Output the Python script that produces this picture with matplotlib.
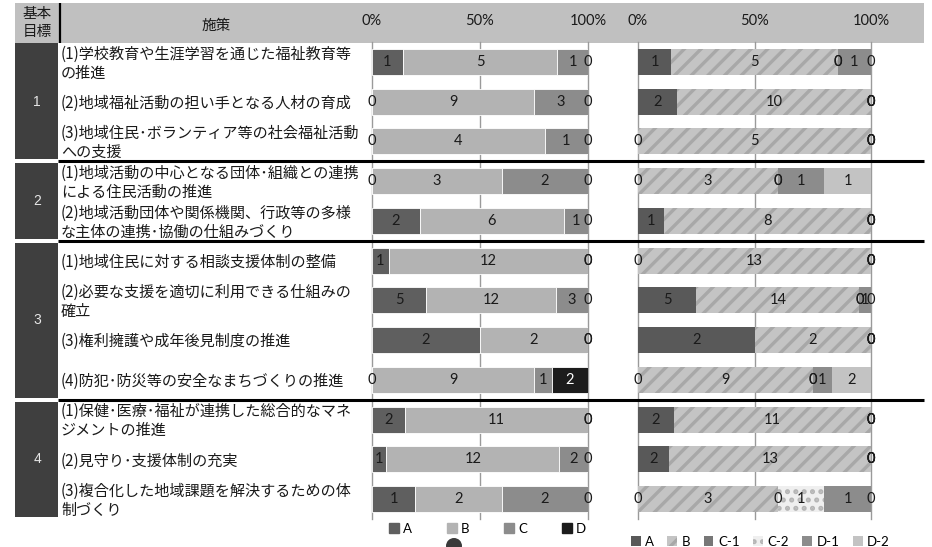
import matplotlib
matplotlib.use("Agg")
import matplotlib.pyplot as plt
from matplotlib.patches import Rectangle, Circle, Patch
import numpy as np

plt.rcParams['font.family'] = ['Noto Sans CJK JP', 'DejaVu Sans']
plt.rcParams['hatch.linewidth'] = 2.4

# ---------------- data ----------------
goals = ['1', '2', '3', '4']
goal_sizes = [3, 2, 4, 3]
measures = [
    '(1)学校教育や生涯学習を通じた福祉教育等\nの推進',
    '(2)地域福祉活動の担い手となる人材の育成',
    '(3)地域住民･ボランティア等の社会福祉活動\nへの支援',
    '(1)地域活動の中心となる団体･組織との連携\nによる住民活動の推進',
    '(2)地域活動団体や関係機関、行政等の多様\nな主体の連携･協働の仕組みづくり',
    '(1)地域住民に対する相談支援体制の整備',
    '(2)必要な支援を適切に利用できる仕組みの\n確立',
    '(3)権利擁護や成年後見制度の推進',
    '(4)防犯･防災等の安全なまちづくりの推進',
    '(1)保健･医療･福祉が連携した総合的なマネ\nジメントの推進',
    '(2)見守り･支援体制の充実',
    '(3)複合化した地域課題を解決するための体\n制づくり',
]

cats1 = ['A', 'B', 'C', 'D']
a1 = [1, 0, 0, 0, 2, 1, 5, 2, 0, 2, 1, 1]
b1 = [5, 9, 4, 3, 6, 12, 12, 2, 9, 11, 12, 2]
c1 = [1, 3, 1, 2, 1, 0, 3, 0, 1, 0, 2, 2]
d1 = [0, 0, 0, 0, 0, 0, 0, 0, 2, 0, 0, 0]

cats2 = ['A', 'B', 'C-1', 'C-2', 'D-1', 'D-2']
a2 = [1, 2, 0, 0, 1, 0, 5, 2, 0, 2, 2, 0]
b2 = [5, 10, 5, 3, 8, 13, 14, 2, 9, 11, 13, 3]
c1_2 = [0, 0, 0, 0, 0, 0, 0, 0, 0, 0, 0, 0]
c2_2 = [0, 0, 0, 0, 0, 0, 0, 0, 0, 0, 0, 1]
d1_2 = [1, 0, 0, 1, 0, 0, 1, 0, 1, 0, 0, 1]
d2_2 = [0, 0, 0, 1, 0, 0, 0, 0, 2, 0, 0, 0]

tick_vals = [0, 0.5, 1.0]
tick_labels = ['0%', '50%', '100%']
header_goal = '基本\n目標'
header_measure = '施策'

# ---------------- styles ----------------
style1 = [dict(color='#5f5f5f'), dict(color='#b3b3b3'), dict(color='#8c8c8c'), dict(color='#1c1c1c')]
txtc1 = ['#1a1a1a', '#1a1a1a', '#1a1a1a', '#ffffff']
style2 = [dict(facecolor='#595959', edgecolor='#595959'),
          dict(facecolor='#c4c4c4', edgecolor='#a8a8a8', hatch='//'),
          dict(facecolor='#777777', edgecolor='#777777'),
          dict(facecolor='#efefef', edgecolor='#b5b5b5', hatch='..'),
          dict(facecolor='#8c8c8c', edgecolor='#8c8c8c'),
          dict(facecolor='#c3c3c3', edgecolor='#c3c3c3')]

W, H = 932, 547
TOP = 42.0
ROW = 39.75
N = len(measures)
BOT = TOP + N * ROW

fig = plt.figure(figsize=(W / 100, H / 100), dpi=100)

# background layer (header band)
bg = fig.add_axes([0, 0, 1, 1], zorder=-1)
bg.set_xlim(0, W)
bg.set_ylim(H, 0)
bg.axis('off')
bg.add_patch(Rectangle((15, 3), 909, TOP - 2, facecolor='#c0c0c0', edgecolor='none'))


def axpos(x0, x1):
    return [x0 / W, 1 - BOT / H, (x1 - x0) / W, (BOT - TOP) / H]


ax1 = fig.add_axes(axpos(372, 588), zorder=1)
ax2 = fig.add_axes(axpos(638, 871), zorder=1)

LABFONT = 'Lato'


def draw_chart(ax, series, styles, txtcolors, hatch_mode):
    data = np.array(series, dtype=float)  # (k, N)
    totals = data.sum(axis=0)
    frac = data / totals
    lefts = np.zeros(N)
    y = np.arange(N)
    for k in range(data.shape[0]):
        st = styles[k]
        if hatch_mode:
            ax.barh(y, frac[k], left=lefts, height=0.65, linewidth=0, **st)
        else:
            ax.barh(y, frac[k], left=lefts, height=0.65, edgecolor='white', linewidth=0.6, **st)
        for i in range(N):
            col = txtcolors[k] if data[k][i] > 0 else '#1a1a1a'
            ax.text(lefts[i] + frac[k][i] / 2, y[i], f'{int(data[k][i])}', ha='center', va='center',
                    fontsize=10.5, color=col, family=LABFONT)
        lefts = lefts + frac[k]
    ax.set_xlim(0, 1)
    ax.set_ylim(N - 0.5, -0.5)
    ax.set_xticks(tick_vals)
    ax.set_xticklabels(tick_labels, family=LABFONT, fontsize=10.5, color='#1a1a1a')
    ax.xaxis.set_ticks_position('top')
    ax.tick_params(axis='x', length=0, pad=10)
    ax.set_yticks([])
    for s in ax.spines.values():
        s.set_visible(False)
    ax.grid(axis='x', color='#9a9a9a', linewidth=1.0)
    ax.set_axisbelow(True)
    for gl in ax.get_xgridlines():
        gl.set_clip_on(False)
    ax.patch.set_alpha(0)


draw_chart(ax1, [a1, b1, c1, d1], style1, txtc1, False)
draw_chart(ax2, [a2, b2, c1_2, c2_2, d1_2, d2_2], style2, ['#1a1a1a'] * 6, True)

leg_h1 = [Patch(**style1[k]) for k in range(4)]
leg_h2 = [Patch(linewidth=0, **style2[k]) for k in range(6)]
ax1.legend(leg_h1, cats1, loc='center', bbox_to_anchor=(0.535, -0.02), ncol=4, frameon=False,
           handlelength=0.75, handleheight=0.75, handletextpad=0.35, columnspacing=2.6,
           prop=dict(family=LABFONT, size=9.5), borderaxespad=0, borderpad=0)
ax2.legend(leg_h2, cats2, loc='center', bbox_to_anchor=(0.525, -0.048), ncol=6, frameon=False,
           handlelength=0.75, handleheight=0.75, handletextpad=0.35, columnspacing=1.0,
           prop=dict(family=LABFONT, size=9.5), borderaxespad=0, borderpad=0)

# ---------------- table overlay ----------------
ov = fig.add_axes([0, 0, 1, 1], zorder=5)
ov.set_xlim(0, W)
ov.set_ylim(H, 0)
ov.axis('off')
ov.patch.set_alpha(0)

ov.plot([59.5, 59.5], [3, TOP + 1], color='black', lw=1.6, solid_capstyle='butt')
lines = header_goal.split('\n')
ov.text(37, 14, lines[0], ha='center', va='center', fontsize=10.5, color='#1a1a1a')
ov.text(37, 32, lines[1], ha='center', va='center', fontsize=10.5, color='#1a1a1a')
ov.text(216, 26, header_measure, ha='center', va='center', fontsize=10.5, color='#1a1a1a')

start = 0
bounds = []
for g, size in zip(goals, goal_sizes):
    y0 = TOP + start * ROW
    y1 = TOP + (start + size) * ROW
    top = y0 + (1 if start == 0 else 2)
    bot = y1 - 2
    ov.add_patch(Rectangle((15, top), 43, bot - top, facecolor='#3f3f3f', edgecolor='none'))
    ov.text(37, (y0 + y1) / 2, g, ha='center', va='center', fontsize=10, color='#e6e6e6',
            family='Liberation Sans')
    start += size
    if start < N:
        bounds.append(y1)

for yb in bounds:
    ov.plot([58, 924], [yb, yb], color='black', lw=2.2, solid_capstyle='butt')

FS = 10.9
for i, m in enumerate(measures):
    yc = TOP + (i + 0.5) * ROW + 1.5
    parts = m.split('\n')
    if len(parts) == 1:
        ov.text(61, yc, parts[0], ha='left', va='center', fontsize=FS, color='#1a1a1a')
    else:
        ov.text(61, yc - 9.5, parts[0], ha='left', va='center', fontsize=FS, color='#1a1a1a')
        ov.text(61, yc + 9.5, parts[1], ha='left', va='center', fontsize=FS, color='#1a1a1a')

ov.add_patch(Circle((454, 546), 8, facecolor='#3a3a3a', edgecolor='none'))

fig.savefig('out.png', dpi=100)
